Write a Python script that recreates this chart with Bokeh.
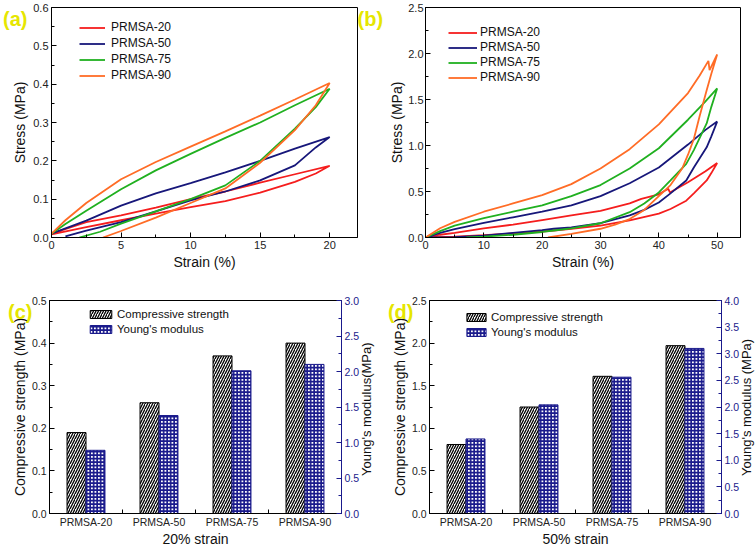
import numpy as np
from bokeh.plotting import figure
from bokeh.models import (Range1d, LinearAxis, SingleIntervalTicker, FixedTicker,
                          PrintfTickFormatter)
from bokeh.layouts import column, row
from bokeh.embed import file_html
from bokeh.resources import INLINE

FONT = "Liberation Sans"
YELLOW = "#e6e600"
NAVY = "#1a1a8c"

# ---------------- data ----------------
series_names = ["PRMSA-20", "PRMSA-50", "PRMSA-75", "PRMSA-90"]
series_colors = ["#f51d1d", "#17177a", "#20b020", "#ff6c26"]

# (a) 20 % strain loading/unloading loops
a_x_20 = [0, 2.5, 5, 7.5, 10, 12.5, 15, 17.5, 20, 19, 17.5, 15, 12.5, 10, 7.5, 5, 2.5, 0]
a_y_20 = [0.010, 0.040, 0.058, 0.078, 0.100, 0.120, 0.143, 0.165, 0.187, 0.167, 0.145, 0.117, 0.095, 0.079, 0.062, 0.045, 0.027, 0.008]
a_x_50 = [0, 2.5, 5, 7.5, 10, 12.5, 15, 17.5, 20, 19, 17.5, 15, 12.5, 10, 7.5, 5, 2.5, 1]
a_y_50 = [0.010, 0.044, 0.083, 0.115, 0.142, 0.170, 0.200, 0.232, 0.262, 0.235, 0.188, 0.149, 0.120, 0.097, 0.068, 0.040, 0.018, 0.003]
a_x_75 = [0, 1, 2.5, 5, 7.5, 10, 12.5, 15, 17.5, 20, 19, 17.5, 15, 12.5, 10, 7.5, 5, 3.5, 2]
a_y_75 = [0.010, 0.035, 0.070, 0.126, 0.175, 0.218, 0.260, 0.300, 0.345, 0.388, 0.340, 0.284, 0.200, 0.136, 0.100, 0.068, 0.036, 0.015, 0.0]
a_x_90 = [0, 1, 2.5, 5, 7.5, 10, 12.5, 15, 17.5, 20, 19, 17.5, 15, 12.5, 10, 7.5, 5, 3.7]
a_y_90 = [0.010, 0.045, 0.090, 0.152, 0.197, 0.237, 0.277, 0.318, 0.360, 0.403, 0.345, 0.280, 0.195, 0.128, 0.090, 0.052, 0.017, 0.0]
a_yticks = [0.0, 0.1, 0.2, 0.3, 0.4, 0.5, 0.6]

# (b) 50 % strain loading/unloading loops
b_x_20 = [0, 2.5, 5, 10, 15, 20, 25, 30, 35, 37, 40, 41.6, 41.9, 45, 48, 50, 49, 48.2, 46, 44.7, 42, 40, 35, 30, 25, 22, 20, 15, 10, 5, 0]
b_y_20 = [0, 0.03, 0.05, 0.10, 0.14, 0.19, 0.24, 0.29, 0.37, 0.42, 0.47, 0.53, 0.49, 0.60, 0.72, 0.81, 0.70, 0.62, 0.48, 0.40, 0.31, 0.26, 0.185, 0.13, 0.095, 0.076, 0.065, 0.045, 0.025, 0.01, 0]
b_x_50 = [0, 2.5, 5, 10, 15, 20, 25, 30, 35, 40, 45, 48, 50, 49, 48.2, 46, 44.7, 42, 40, 37.5, 35, 30, 25, 22, 20, 15, 10, 5, 0]
b_y_50 = [0, 0.05, 0.09, 0.16, 0.22, 0.28, 0.35, 0.45, 0.59, 0.76, 1.01, 1.17, 1.26, 1.10, 0.98, 0.76, 0.62, 0.48, 0.38, 0.30, 0.24, 0.155, 0.11, 0.095, 0.08, 0.05, 0.02, 0.005, 0]
b_x_75 = [0, 2.5, 5, 10, 15, 20, 25, 30, 35, 40, 45, 48, 50, 49, 48.2, 46, 44.7, 42, 40, 37.5, 35, 30, 25, 22, 20, 15, 10, 7]
b_y_75 = [0, 0.07, 0.13, 0.21, 0.28, 0.35, 0.45, 0.57, 0.75, 0.97, 1.28, 1.48, 1.62, 1.42, 1.24, 0.95, 0.80, 0.62, 0.49, 0.37, 0.275, 0.155, 0.10, 0.076, 0.06, 0.03, 0.01, 0]
b_x_90 = [0, 2.5, 5, 10, 15, 20, 25, 30, 35, 40, 45, 47, 48.5, 48.7, 50, 49, 48.2, 47, 46, 45, 44, 42, 40, 37.5, 35, 32.5, 30, 25, 21]
b_y_90 = [0, 0.10, 0.17, 0.28, 0.37, 0.46, 0.58, 0.75, 0.96, 1.23, 1.57, 1.76, 1.92, 1.82, 1.99, 1.78, 1.60, 1.32, 1.07, 0.90, 0.75, 0.57, 0.45, 0.30, 0.20, 0.14, 0.095, 0.04, 0]

# (c) / (d) bars
categories = ["PRMSA-20", "PRMSA-50", "PRMSA-75", "PRMSA-90"]
c_strength = [0.19, 0.26, 0.37, 0.40]
c_modulus = [0.89, 1.38, 2.01, 2.10]
d_strength = [0.81, 1.25, 1.61, 1.97]
d_modulus = [1.40, 2.04, 2.56, 3.10]

panel_tags = ["(a)", "(b)", "(c)", "(d)"]


# ---------------- helpers ----------------
def make_fig(fw, fh, l, r, t, b, xr, yr):
    p = figure(frame_width=fw, frame_height=fh,
               min_border_left=l, min_border_right=r, min_border_top=t, min_border_bottom=b,
               x_range=Range1d(*xr), y_range=Range1d(*yr),
               output_backend="svg", toolbar_location=None)
    p.xgrid.visible = False
    p.ygrid.visible = False
    p.outline_line_color = "black"
    p.outline_line_alpha = 1
    p.outline_line_width = 1
    p.border_fill_color = "white"
    p.background_fill_color = "white"
    return p


def style_axis(ax, color="black", size="11px", label_color="#222222"):
    ax.axis_line_color = color
    ax.major_tick_line_color = color
    ax.minor_tick_line_color = color
    ax.major_tick_in = 5
    ax.major_tick_out = 0
    ax.minor_tick_in = 3
    ax.minor_tick_out = 0
    ax.major_label_text_font = FONT
    ax.major_label_text_font_size = size
    ax.major_label_text_color = label_color
    ax.major_label_standoff = 3
    ax.axis_label_text_font = FONT
    ax.axis_label_text_font_size = "14px"
    ax.axis_label_text_font_style = "normal"
    ax.axis_label_text_color = "#111111"
    ax.axis_label_standoff = 2


def place_legend(p, fh, dx, dy, row_h, spacing, n, gw, gh, standoff, fsize):
    leg = p.legend[0]
    leg.padding = 0
    leg.margin = 0
    leg.spacing = spacing
    leg.glyph_width = gw
    leg.glyph_height = gh
    leg.label_height = row_h
    leg.label_standoff = standoff
    leg.label_text_font = FONT
    leg.label_text_font_size = fsize
    leg.label_text_color = "#111111"
    leg.border_line_color = None
    leg.background_fill_alpha = 0
    h = n * row_h + (n - 1) * spacing
    top = dy - row_h / 2
    leg.location = (dx, fh - top - h)


def text_axis(p, side, text, yval, standoff, size, color, bold=False, angle=None):
    """A line-less, tick-less axis whose single tick label carries a text."""
    ax = LinearAxis()
    ax.ticker = FixedTicker(ticks=[yval], minor_ticks=[])
    ax.major_label_overrides = {yval: text}
    ax.axis_line_color = None
    ax.major_tick_line_color = None
    ax.minor_tick_line_color = None
    ax.major_tick_in = 0
    ax.major_tick_out = 0
    ax.major_label_standoff = standoff
    ax.major_label_text_font = FONT
    ax.major_label_text_font_size = size
    ax.major_label_text_font_style = "bold" if bold else "normal"
    ax.major_label_text_color = color
    if angle is not None:
        ax.major_label_orientation = angle
    p.add_layout(ax, side)


# ---------------- geometry ----------------
FW_A, FH_A = 306, 230
FW_B = 315
FW_C = 292
FH_C = 213

# ---------------- panel (a) ----------------
pa = make_fig(FW_A, FH_A, 46, 26, 7, 37, (0, 22), (0, 0.6))
for name, col, xs, ys in zip(series_names, series_colors,
                             [a_x_20, a_x_50, a_x_75, a_x_90],
                             [a_y_20, a_y_50, a_y_75, a_y_90]):
    pa.line(xs, ys, line_color=col, line_width=1.8, legend_label=name)
style_axis(pa.xaxis[0])
style_axis(pa.yaxis[0])
pa.xaxis[0].ticker = SingleIntervalTicker(interval=5, num_minor_ticks=2)
a_minor = [round((a_yticks[i] + a_yticks[i + 1]) / 2, 3) for i in range(len(a_yticks) - 1)]
pa.yaxis[0].ticker = FixedTicker(ticks=a_yticks, minor_ticks=a_minor)
pa.yaxis[0].formatter = PrintfTickFormatter(format="%.1f")
pa.xaxis[0].axis_label = "Strain (%)"
pa.yaxis[0].axis_label = "Stress (MPa)"
place_legend(pa, FH_A, 28, 20, 15, 1, 4, 26, 15, 6, "12px")
tag_y_a = 0.6 - 11.5 / FH_A * 0.6
text_axis(pa, "left", panel_tags[0], tag_y_a, -18, "20px", YELLOW, bold=True)
text_axis(pa, "right", panel_tags[1], tag_y_a, 0, "20px", YELLOW, bold=True)

# ---------------- panel (b) ----------------
pb = make_fig(FW_B, FH_A, 34, 28, 7, 37, (0, 54), (0, 2.5))
for name, col, xs, ys in zip(series_names, series_colors,
                             [b_x_20, b_x_50, b_x_75, b_x_90],
                             [b_y_20, b_y_50, b_y_75, b_y_90]):
    pb.line(xs, ys, line_color=col, line_width=1.8, legend_label=name)
style_axis(pb.xaxis[0])
style_axis(pb.yaxis[0])
pb.yaxis[0].major_label_standoff = 2
pb.yaxis[0].axis_label_standoff = 0
pb.xaxis[0].ticker = SingleIntervalTicker(interval=10, num_minor_ticks=2)
pb.yaxis[0].ticker = SingleIntervalTicker(interval=0.5, num_minor_ticks=2)
pb.yaxis[0].formatter = PrintfTickFormatter(format="%.1f")
pb.xaxis[0].axis_label = "Strain (%)"
pb.yaxis[0].axis_label = "Stress (MPa)"
place_legend(pb, FH_A, 23, 25, 15, 0, 4, 29, 15, 3, "12px")


# ---------------- bar panels ----------------
def bar_panel(strength, modulus, ymax_l, ymax_r, lstep, rstep, bl, br, xlabel, rlabel,
              leg_dx, leg_dy, leg_gw, tag, tag_standoff):
    p = make_fig(FW_C, FH_C, bl, br, 26, 34, (0.5, 4.5), (0, ymax_l))
    p.extra_y_ranges = {"right": Range1d(0, ymax_r)}
    idx = np.arange(1, len(categories) + 1)
    p.vbar(x=idx - 0.13, top=strength, width=0.26, fill_color="white", line_color="black",
           line_width=1, hatch_pattern="right_diagonal_line", hatch_color="black",
           hatch_scale=5, hatch_weight=1.3, legend_label="Compressive strength")
    p.vbar(x=idx + 0.13, top=modulus, width=0.26, y_range_name="right", fill_color="white",
           line_color=NAVY, line_width=1, hatch_pattern="cross", hatch_color=NAVY,
           hatch_scale=3.5, hatch_weight=1.8, legend_label="Young's modulus")
    ax = p.xaxis[0]
    style_axis(ax, size="10.5px")
    ax.ticker = FixedTicker(ticks=list(idx), minor_ticks=[1.5, 2.5, 3.5])
    ax.major_label_overrides = {int(i): c for i, c in zip(idx, categories)}
    ax.major_tick_in = 0
    ax.minor_tick_in = 4
    ax.major_label_standoff = 2
    ax.axis_label = xlabel
    ax.axis_label_standoff = 0
    yl = p.yaxis[0]
    style_axis(yl, size="10.5px")
    yl.axis_label_standoff = 1
    yl.ticker = SingleIntervalTicker(interval=lstep, num_minor_ticks=2)
    yl.formatter = PrintfTickFormatter(format="%.1f")
    yl.axis_label = "Compressive strength (MPa)"
    yr = LinearAxis(y_range_name="right")
    style_axis(yr, color=NAVY, size="10.5px", label_color=NAVY)
    yr.major_label_standoff = 3
    yr.ticker = SingleIntervalTicker(interval=rstep, num_minor_ticks=2)
    yr.formatter = PrintfTickFormatter(format="%.1f")
    p.add_layout(yr, "right")
    # rotated right-hand axis title (reads bottom to top), centred on the frame
    text_len = 138.0
    y_start = ymax_l * (0.5 - (text_len / 2) / FH_C)
    text_axis(p, "right", rlabel, y_start, 4, "13px", "#111111", angle=np.pi / 2)
    # yellow panel tag
    text_axis(p, "left", tag, ymax_l * (1 - 11.5 / FH_C), tag_standoff, "20px", YELLOW, bold=True)
    place_legend(p, FH_C, leg_dx, leg_dy, 15, 0, 2, leg_gw, 10, 3, "11.5px")
    return p


pc = bar_panel(c_strength, c_modulus, 0.5, 3.0, 0.1, 0.5, 49, 40, "20% strain",
               "Young's modulus(MPa)", 38, 14, 27, panel_tags[2], -24)
pd = bar_panel(d_strength, d_modulus, 2.5, 4.0, 0.5, 0.5, 40, 40, "50% strain",
               "Young's modulus (MPa)", 35, 17, 24, panel_tags[3], -25)

layout = column(row(pa, pb), row(pc, pd))
open("out.html", "w").write(file_html(layout, INLINE))
